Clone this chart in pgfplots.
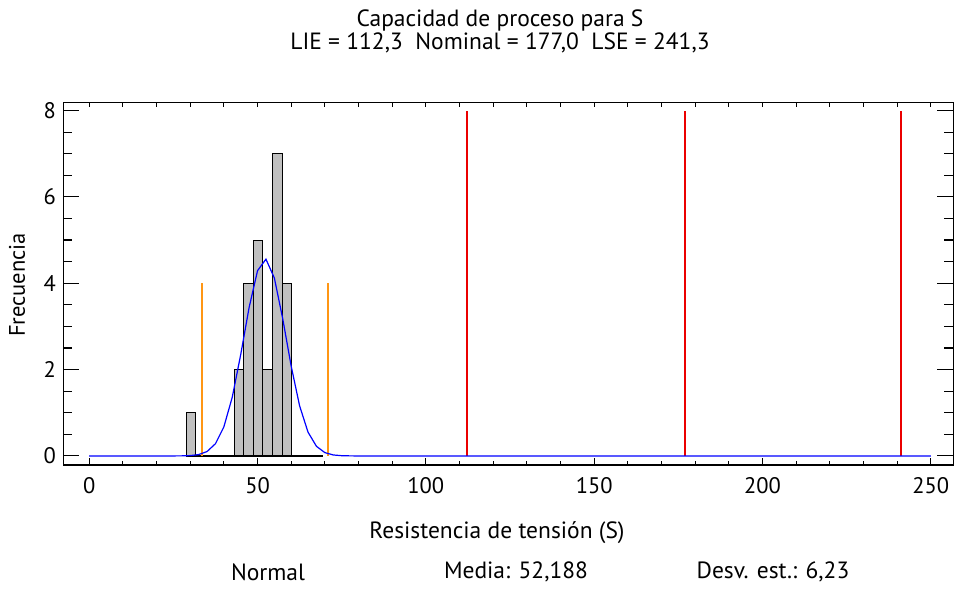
\documentclass[border=0pt]{standalone}
\usepackage{fontspec}
\setmainfont{PT Sans}
\usepackage{pgfplots}
\pgfplotsset{compat=1.18}

\definecolor{histfill}{RGB}{192,192,192}
\definecolor{curveblue}{RGB}{0,0,255}
\definecolor{limred}{RGB}{235,0,0}
\definecolor{sigorange}{RGB}{255,150,20}

\newcommand{\chartfont}{\fontsize{22.5bp}{27bp}\selectfont}
\newcommand{\labelfont}{\fontsize{23.5bp}{28bp}\selectfont}

\begin{document}
\begin{tikzpicture}
% short ticks along the top edge
\begin{axis}[
  scale only axis,
  width=890bp, height=362.7bp,
  xmin=-7.7, xmax=256.7,
  ymin=-0.21, ymax=8.19,
  xtick={0,10,...,250},
  xticklabels={},
  ytick=\empty,
  xtick pos=right,
  tick align=inside,
  major tick length=4.5bp,
  every tick/.style={black, line width=1.1bp},
  axis line style={draw=none},
]
\end{axis}
\begin{axis}[
  scale only axis,
  width=890bp, height=362.7bp,
  xmin=-7.7, xmax=256.7,
  ymin=-0.21, ymax=8.19,
  xtick={0,50,...,250},
  minor x tick num=4,
  ytick={0,2,...,8},
  minor y tick num=3,
  xtick pos=left,
  ytick pos=both,
  tick align=inside,
  major tick length=16bp,
  minor tick length=9bp,
  xtick style={/pgfplots/major tick length=7bp, /pgfplots/minor tick length=4bp},
  every tick/.style={black, line width=1.1bp},
  axis line style={line width=1.1bp},
  /pgf/number format/assume math mode=true,
  ticklabel style={font=\chartfont},
  xticklabel style={yshift=-9bp},
  yticklabel style={xshift=-4bp},
  clip=false,
]
% histogram of the sample
\addplot[ybar interval, fill=histfill, draw=black, line width=1bp]
  coordinates {(28.8,1) (31.65,1)};
\addplot[ybar interval, fill=histfill, draw=black, line width=1bp]
  coordinates {(43.05,2) (45.9,4) (48.75,5) (51.6,2) (54.45,7) (57.3,4) (60.15,4)};
% baseline of the histogram
\addplot[black, line width=1.2bp] coordinates {(28.8,0) (69.4,0)};
% specification limits: LIE, nominal, LSE
\addplot[limred, line width=2bp, ycomb, mark=none]
  coordinates {(112.3,8) (177.0,8) (241.3,8)};
% mean +/- 3 sigma
\addplot[sigorange, line width=1.6bp, ycomb, mark=none]
  coordinates {(33.5,4) (70.88,4)};
% fitted normal curve (mean 52.188, sd 6.23), scaled to counts
\addplot[curveblue, line width=1.2bp] coordinates {
  (0,0) (25,0.0003) (27.5,0.0018) (30,0.008) (32.5,0.031) (35,0.1015)
  (37.5,0.283) (40,0.673) (42.5,1.362) (45,2.345) (47.5,3.438) (50,4.290)
  (52.5,4.557) (55,4.121) (57.5,3.172) (60,2.079) (62.5,1.160) (65,0.551)
  (67.5,0.223) (70,0.0766) (72.5,0.0224) (75,0.0056) (77.5,0.0012) (80,0)
  (250,0)};
\end{axis}
\begin{scope}[shift={(current axis.south west)}, x=1bp, y=-1bp, shift={(-63.3,-465)}]
  \path (0,0) rectangle (958,590);
  \node[font=\labelfont, anchor=base] at (500,26.5) {Capacidad de proceso para S};
  \node[font=\labelfont, anchor=base] at (500,49.5) {LIE = 112,3\ \ Nominal = 177,0\ \ LSE = 241,3};
  \node[font=\labelfont] at (497,533) {Resistencia de tensión (S)};
  \node[font=\chartfont, rotate=90] at (17,285) {Frecuencia};
  \node[font=\labelfont] at (268,572) {Normal};
  \node[font=\labelfont] at (516,572) {Media: 52,188};
  \node[font=\labelfont] at (773,572) {Desv. est.: 6,23};
\end{scope}
\end{tikzpicture}
\end{document}
